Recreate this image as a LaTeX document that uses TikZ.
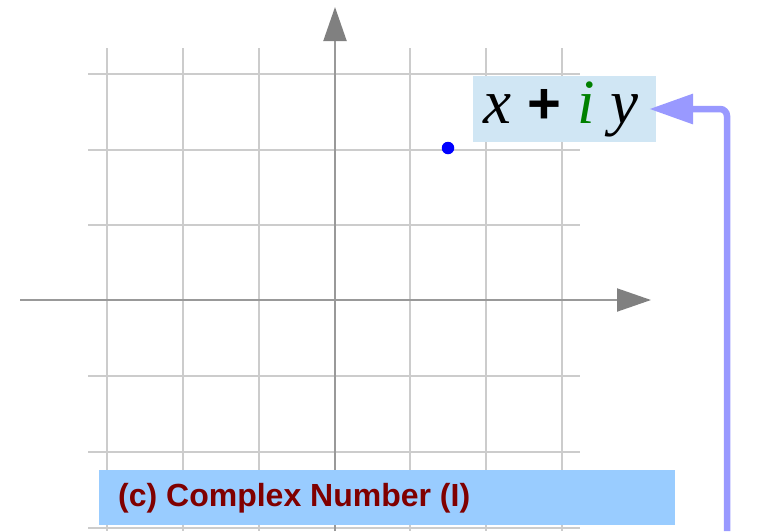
\documentclass[tikz,border=0pt]{standalone}
\usepackage{fontspec}
\setmainfont{Liberation Serif}
\newfontfamily\capfont{Liberation Sans}
\usetikzlibrary{arrows.meta}
\definecolor{gridc}{HTML}{CCCCCC}
\definecolor{axisc}{HTML}{999999}
\definecolor{tipc}{HTML}{808080}
\definecolor{lblfill}{HTML}{D0E6F4}
\definecolor{capfill}{HTML}{99CCFF}
\definecolor{capred}{HTML}{800000}
\definecolor{conncol}{HTML}{9999FF}
\definecolor{igreen}{HTML}{008000}
\tikzset{
  gridline/.style={draw=gridc, line width=1.5pt},
  axisline/.style={draw=axisc, line width=2pt, -{Triangle[length=34pt,width=23pt,fill=tipc,color=tipc]}},
  lblbox/.style={fill=lblfill, inner sep=0pt, minimum width=183pt, minimum height=66pt},
  capbox/.style={fill=capfill, inner sep=0pt, minimum width=576pt, minimum height=55pt},
  conn/.style={draw=conncol, line width=6.5pt, rounded corners=7pt, -{Triangle[length=44pt,width=29pt]}},
  dotstyle/.style={circle, fill=blue, inner sep=0pt, minimum size=12.5pt}
}
\begin{document}
\begin{tikzpicture}[x=1pt,y=-1pt]
\useasboundingbox (0,0) rectangle (765,531);
% grid
\foreach \gx in {107,183,259,410,486,562} {
  \draw[gridline] (\gx,48) -- (\gx,531);
}
\foreach \gy in {74,150,225,376,452,528} {
  \draw[gridline] (88,\gy) -- (580,\gy);
}
\draw[gridline] (88,300) -- (580,300);
\draw[gridline] (335,48) -- (335,531);
% axes
\coordinate (xs) at (20,300);
\coordinate (xe) at (651,300);
\coordinate (ys) at (335,531);
\coordinate (ye) at (335,7);
\draw[axisline] (xs) -- (xe);
\draw[axisline] (ys) -- (ye);
% point
\node[dotstyle] (pt) at (448,148) {};
% label
\node[lblbox] (lbl) at (564.5,109) {};
\node[inner sep=0pt] (lbltext) at (561,109) {\fontsize{63}{63}\selectfont\itshape x {\upshape\capfont\bfseries\fontsize{58}{58}\selectfont +} \textcolor{igreen}{i} y};
% caption
\node[capbox] (cap) at (387,497.5) {};
\node[anchor=west, text=capred, inner sep=0pt] (captext) at (118,498) {\capfont\bfseries\fontsize{32}{32}\selectfont (c) Complex Number (I)};
% connector
\coordinate (cs) at (727,531);
\coordinate (ce) at ([xshift=-7pt]lbl.east);
\draw[conn] (cs) |- (ce);
\end{tikzpicture}
\end{document}
